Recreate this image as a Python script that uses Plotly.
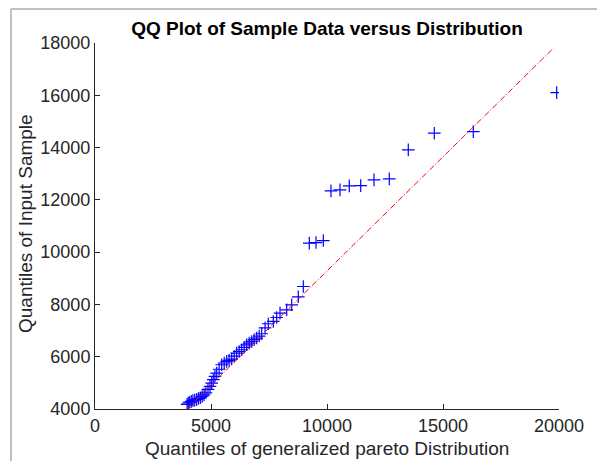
import plotly.graph_objects as go

# Theoretical quantiles (x) and sorted sample quantiles (y)
x_q = [3970, 4020, 4080, 4150, 4220, 4300, 4380, 4460, 4540, 4620, 4700, 4780,
       4870, 4957, 5030, 5099, 5170, 5246, 5350, 5461, 5570, 5677, 5780, 5892,
       6000, 6107, 6215, 6323, 6430, 6538, 6646, 6754, 6860, 6969, 7077, 7185,
       7330, 7469, 7685, 7830, 7974, 8263, 8478, 8763, 8978,
       9237, 9526, 9841,
       10172, 10560, 10961, 11453, 12026, 12685,
       13504, 14625, 16306, 19900]
y_q = [4180, 4230, 4260, 4290, 4320, 4340, 4370, 4400, 4430, 4480, 4540, 4620,
       4750, 4864, 4990, 5120, 5250, 5376, 5520, 5693, 5760, 5820, 5860, 5911,
       6020, 6140, 6200, 6267, 6360, 6456, 6520, 6584, 6650, 6714, 6790, 6878,
       7100, 7260, 7348, 7500, 7669, 7795, 7986, 8292, 8686,
       10344, 10367, 10444,
       12343, 12382, 12535, 12546, 12764, 12802,
       13910, 14549, 14610, 16100]

# Reference line (through quartiles, extended over the data range)
line_x = [3953, 19754]
line_y = [4000, 17797]

x_ticks = [0, 5000, 10000, 15000, 20000]
x_tick_text = ["0", "5000", "10000", "15000", "20000"]
y_ticks = [4000, 6000, 8000, 10000, 12000, 14000, 16000, 18000]
y_tick_text = ["4000", "6000", "8000", "10000", "12000", "14000", "16000", "18000"]

FONT = "Liberation Sans, Arial, sans-serif"
OFF = 8  # default page body margin

fig = go.Figure()
fig.add_trace(go.Scatter(
    x=x_q, y=y_q, mode="markers",
    marker=dict(symbol="cross-thin", size=9, line=dict(color="#0000ff", width=1.2)),
    showlegend=False))
fig.add_trace(go.Scatter(
    x=line_x, y=line_y, mode="lines",
    line=dict(color="#ff0000", width=1, dash="6px,2px,1px,2px"),
    showlegend=False))

axis_font = dict(family=FONT, size=18, color="#262626")
fig.update_xaxes(range=[0, 20000], tickvals=x_ticks, ticktext=x_tick_text,
                 ticks="inside", ticklen=5,
                 tickcolor="#262626", showline=True, linecolor="#262626", linewidth=1,
                 showgrid=False, zeroline=False, tickfont=axis_font)
fig.update_yaxes(range=[4000, 18000], tickvals=y_ticks, ticktext=y_tick_text,
                 ticks="inside", ticklen=5,
                 tickcolor="#262626", showline=True, linecolor="#262626", linewidth=1,
                 showgrid=False, zeroline=False, tickfont=axis_font)

# axis titles
fig.add_annotation(text="Quantiles of generalized pareto Distribution",
                   xref="paper", yref="paper", x=(327 - 95) / 464, y=(409 - 449) / 366,
                   xanchor="center", yanchor="middle", showarrow=False,
                   font=dict(family=FONT, size=19, color="#262626"))
fig.add_annotation(text="Quantiles of Input Sample",
                   xref="paper", yref="paper", x=(25 - 95) / 464, y=(409 - 224) / 366,
                   xanchor="center", yanchor="middle", showarrow=False, textangle=-90,
                   font=dict(family=FONT, size=19, color="#262626"))

# light gray frame (top and left edges of the figure window)
fx = (11 - 95) / 464
fy_top = (409 - 9) / 366
fy_bot = (409 - 470) / 366
fx_right = (620 - 95) / 464
fig.add_shape(type="line", xref="paper", yref="paper", x0=fx, x1=fx, y0=fy_bot, y1=fy_top,
              line=dict(color="#c0c0c0", width=2))
fig.add_shape(type="line", xref="paper", yref="paper", x0=fx, x1=fx_right, y0=fy_top, y1=fy_top,
              line=dict(color="#c0c0c0", width=2))

fig.update_layout(
    width=605, height=461,
    margin=dict(l=95 - OFF, r=605 - (559 - OFF), t=43 - OFF, b=461 - (409 - OFF)),
    paper_bgcolor="white", plot_bgcolor="white",
    title=dict(text="<b>QQ Plot of Sample Data versus Distribution</b>",
               x=(327 - OFF) / 605, xanchor="center", y=1 - (28 - OFF) / 461, yanchor="middle",
               font=dict(family=FONT, size=19, color="#000000")),
)
fig.write_html("out.html")
